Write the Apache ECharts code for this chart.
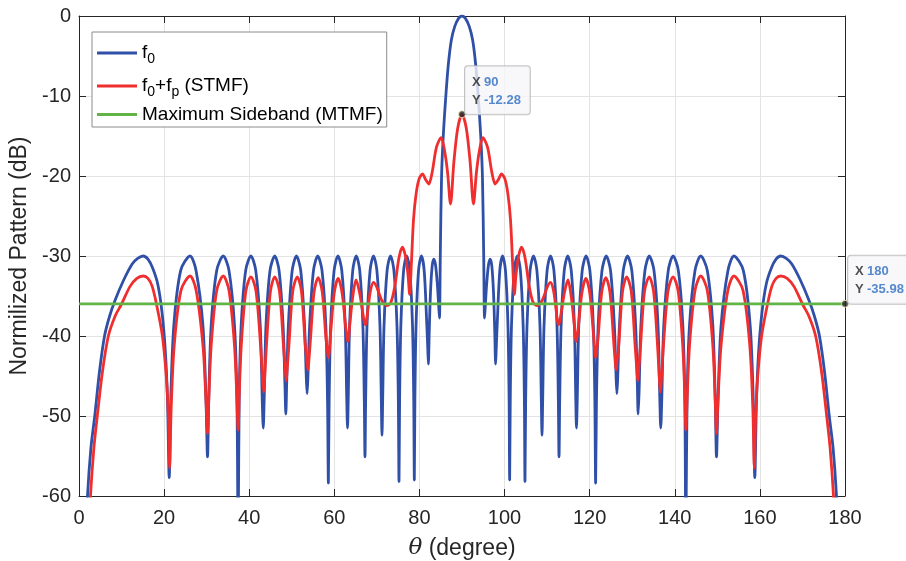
<!DOCTYPE html>
<html>
<head>
<meta charset="utf-8">
<script src="https://cdn.jsdelivr.net/npm/echarts@6/dist/echarts.min.js"></script>
<style>
html,body{margin:0;padding:0;background:#fff;}
#chart{width:906px;height:561px;}
</style>
</head>
<body>
<div id="chart"></div>
<script>
// Axis ranges / ticks
var xMin = 0, xMax = 180, xStep = 20;
var yMin = -60, yMax = 0, yStep = 10;

// f0 pattern [theta (deg), dB]
var f0Data = [
[1.4,-68],[2.0,-60],[2.8,-54],[3.7,-50],[4.8,-44.5],[6.0,-40],[7.2,-37.5],[8.5,-35.5],[10.5,-33],[12.5,-31],[13.8,-30.3],[15.1,-30],[16.2,-30.4],[17.3,-31.5],[18.5,-33.5],[19.5,-37],[20.3,-42],[20.8,-48],[21.2,-57.7],
[21.56,-48],[22.28,-38.7],[23.9,-31.8],[26.1,-30],[27.5,-31.8],[29.12,-38.7],[29.84,-48],[30.2,-55.1],
[30.49,-48],[31.06,-38.7],[32.36,-31.8],[33.9,-30],[35.24,-31.8],[36.54,-38.7],[37.11,-48],[37.4,-66],
[37.64,-48],[38.11,-38.7],[39.17,-31.8],[40.4,-30],[41.53,-31.8],[42.59,-38.7],[43.06,-48],[43.3,-51.5],
[43.51,-48],[43.94,-38.7],[44.89,-31.8],[46.0,-30],[47.01,-31.8],[47.96,-38.7],[48.39,-46],[48.6,-49.75],
[48.8,-46],[49.2,-38.7],[50.1,-31.8],[51.1,-30],[52.1,-31.8],[53.0,-38.7],[53.4,-45],[53.6,-47.2],
[53.8,-45],[54.2,-38.7],[55.1,-31.8],[56.1,-30],[57.1,-31.8],[58.0,-38.7],[58.4,-48],[58.6,-58.4],
[58.78,-48],[59.14,-38.7],[59.95,-31.8],[60.85,-30],[61.75,-31.8],[62.56,-38.7],[62.92,-48],[63.1,-51.5],
[63.26,-48],[63.59,-38.7],[64.33,-31.8],[65.15,-30],[65.97,-31.8],[66.71,-38.7],[67.04,-48],[67.2,-55.1],
[67.36,-48],[67.68,-38.7],[68.4,-31.8],[69.2,-30],[70.0,-31.8],[70.72,-38.7],[71.04,-48],[71.2,-52.4],
[71.36,-48],[71.68,-38.7],[72.4,-31.8],[73.2,-30],[74.0,-31.8],[74.72,-38.7],[75.04,-48],[75.2,-58.2],
[75.34,-48],[75.63,-38.7],[76.28,-31.8],[77.0,-30],[77.72,-31.8],[78.37,-38.7],[78.66,-48],[78.8,-58],
[78.93,-48],[79.2,-38.7],[79.79,-31.8],[80.45,-30],[81.11,-31.8],[81.7,-38.2],[81.95,-41.5],[82.1,-43.5],
[82.3,-39.5],[82.6,-34.5],[83.0,-31.2],[83.4,-30.4],[83.8,-31.2],[84.2,-33.5],[84.5,-36],[84.7,-37.75],
[84.9,-30],[85.2,-20],[85.6,-15],[86.2,-10],[86.8,-6],[87.5,-3],[88.3,-1.3],[89.2,-0.3],[90,0],
[90.8,-0.3],[91.7,-1.3],[92.5,-3],[93.2,-6],[93.8,-10],[94.4,-15],[94.8,-20],[95.1,-30],[95.3,-37.75],
[95.5,-36],[95.8,-33.5],[96.2,-31.2],[96.6,-30.4],[97.0,-31.2],[97.4,-34.5],[97.7,-39.5],[97.9,-43.5],
[98.05,-41.5],[98.3,-38.2],[98.89,-31.8],[99.55,-30],[100.21,-31.8],[100.8,-38.7],[101.07,-48],[101.2,-58],
[101.34,-48],[101.63,-38.7],[102.28,-31.8],[103.0,-30],[103.72,-31.8],[104.37,-38.7],[104.66,-48],[104.8,-58.2],
[104.96,-48],[105.28,-38.7],[106.0,-31.8],[106.8,-30],[107.6,-31.8],[108.32,-38.7],[108.64,-48],[108.8,-52.4],
[108.96,-48],[109.28,-38.7],[110.0,-31.8],[110.8,-30],[111.6,-31.8],[112.32,-38.7],[112.64,-48],[112.8,-55.1],
[112.96,-48],[113.29,-38.7],[114.03,-31.8],[114.85,-30],[115.67,-31.8],[116.41,-38.7],[116.74,-48],[116.9,-51.5],
[117.08,-48],[117.44,-38.7],[118.25,-31.8],[119.15,-30],[120.05,-31.8],[120.86,-38.7],[121.22,-48],[121.4,-58.4],
[121.6,-48],[122.0,-38.7],[122.9,-31.8],[123.9,-30],[124.9,-31.8],[125.8,-38.7],[126.2,-45],[126.4,-47.2],
[126.6,-45],[127.0,-38.7],[127.9,-31.8],[128.9,-30],[129.9,-31.8],[130.8,-38.7],[131.2,-46],[131.4,-49.75],
[131.61,-47],[132.04,-38.7],[132.99,-31.8],[134.0,-30],[135.11,-31.8],[136.06,-38.7],[136.49,-48],[136.7,-51.5],
[136.94,-48],[137.41,-38.7],[138.47,-31.8],[139.6,-30],[140.83,-31.8],[141.89,-38.7],[142.36,-48],[142.6,-66],
[142.89,-48],[143.46,-38.7],[144.76,-31.8],[146.1,-30],[147.64,-31.8],[148.94,-38.7],[149.51,-48],[149.8,-55.1],
[150.16,-48],[150.88,-38.7],[152.5,-31.8],[153.9,-30],[156.1,-31.8],[157.72,-38.7],[158.44,-48],[158.8,-57.7],
[159.2,-48],[159.7,-42],[160.5,-37],[161.5,-33.5],[162.7,-31.5],[163.8,-30.4],[164.9,-30],[166.2,-30.3],[167.5,-31],[169.5,-33],[171.5,-35.5],
[172.8,-37.5],[174.0,-40],[175.2,-44.5],[176.3,-50],[177.2,-54],[178.0,-60],[178.6,-68]
];

// f0+fp (STMF) pattern [theta (deg), dB]
var stmfData = [
[2.2,-66],[2.7,-60],[3.5,-54],[4.3,-50],[5.5,-44.5],[6.9,-40],[8.5,-37.5],[10,-36],[12,-33.8],[13.6,-32.8],[15.1,-32.5],[16.2,-32.8],[17.2,-33.8],[18.2,-36],[19.6,-40],[20.5,-45],[21.0,-50],[21.3,-56.5],
[21.66,-49],[22.37,-41.2],[23.97,-34.3],[26.1,-32.5],[27.53,-34.3],[29.13,-41.2],[29.84,-48],[30.2,-52.2],
[30.49,-48],[31.06,-41.2],[32.36,-34.3],[33.9,-32.5],[35.24,-34.3],[36.54,-41.2],[37.11,-48],[37.4,-51.75],
[37.64,-47.5],[38.12,-41.3],[39.2,-34.4],[40.4,-32.6],[41.6,-34.4],[42.68,-41.3],[43.16,-45.5],[43.4,-47.0],
[43.61,-45.5],[44.04,-41.3],[44.99,-34.4],[46.0,-32.6],[47.11,-34.4],[48.06,-41.3],[48.49,-44.3],[48.7,-45.6],
[48.9,-44.3],[49.31,-41.3],[50.23,-34.4],[51.3,-32.6],[52.27,-34.4],[53.19,-41.3],[53.6,-43.2],[53.8,-44.25],
[54.0,-43.2],[54.38,-40.5],[55.24,-34.5],[56.2,-32.7],[57.16,-34.5],[58.02,-40.2],[58.4,-42],[58.6,-42.7],
[58.8,-42],[59.15,-39.5],[59.98,-34.6],[60.9,-32.8],[61.82,-34.6],[62.65,-38.8],[63.0,-40.2],[63.2,-40.7],
[63.4,-40.0],[63.69,-38.2],[64.43,-34.7],[65.1,-33.0],[65.9,-34.5],[66.6,-36.8],[67.0,-38.1],[67.3,-38.6],
[67.6,-38.0],[68.0,-36.2],[68.5,-34.3],[69.2,-33.3],[69.9,-33.8],[70.6,-34.8],[71.3,-35.7],[72.3,-36.2],[73.3,-35.8],
[74.2,-33.8],[75.2,-30.2],[76.0,-28.9],[76.7,-30.0],[77.3,-32.3],[77.7,-34.8],[78.1,-31],[78.6,-25.5],[79.2,-22.3],
[79.9,-20.4],[80.7,-19.75],[81.5,-20.5],[82.2,-21.0],[83.0,-19.5],[84.0,-16.4],[85.1,-15.2],[85.9,-16.8],[86.6,-19.5],
[87.3,-23.5],[88.1,-18.2],[89.0,-14.0],[90,-12.28],[91.0,-14.0],[91.9,-18.2],[92.7,-23.5],[93.4,-19.5],[94.1,-16.8],
[94.9,-15.2],[96.0,-16.4],[97.0,-19.5],[97.8,-21.0],[98.5,-20.5],[99.3,-19.75],[100.1,-20.4],[100.8,-22.3],[101.4,-25.5],
[101.9,-31],[102.3,-34.8],[102.7,-32.3],[103.3,-30.0],[104.0,-28.9],[104.8,-30.2],[105.8,-33.8],[106.7,-35.8],[107.7,-36.2],
[108.7,-35.7],[109.4,-34.8],[110.1,-33.8],[110.8,-33.3],[111.5,-34.3],[112.0,-36.2],[112.4,-38.0],[112.7,-38.6],
[113.0,-38.1],[113.4,-36.8],[114.1,-34.5],[114.9,-33.0],[115.57,-34.7],[116.31,-38.2],[116.6,-40.0],[116.8,-40.7],
[117.0,-40.2],[117.35,-38.8],[118.18,-34.6],[119.1,-32.8],[120.02,-34.6],[120.85,-39.5],[121.2,-42],[121.4,-42.7],
[121.6,-42],[121.98,-40.2],[122.84,-34.5],[123.8,-32.7],[124.76,-34.5],[125.62,-40.5],[126.0,-43.2],[126.2,-44.25],
[126.4,-43.2],[126.81,-41.3],[127.73,-34.4],[128.7,-32.6],[129.77,-34.4],[130.69,-41.3],[131.1,-44.3],[131.3,-45.6],
[131.51,-44.3],[131.94,-41.3],[132.89,-34.4],[134.0,-32.6],[135.01,-34.4],[135.96,-41.3],[136.39,-45.5],[136.6,-47.0],
[136.84,-45.5],[137.32,-41.3],[138.4,-34.4],[139.6,-32.6],[140.8,-34.4],[141.88,-41.3],[142.36,-47.5],[142.6,-51.75],
[142.89,-48],[143.46,-41.2],[144.76,-34.3],[146.1,-32.5],[147.64,-34.3],[148.94,-41.2],[149.51,-48],[149.8,-52.2],
[150.16,-48],[150.87,-41.2],[152.47,-34.3],[153.9,-32.5],[156.03,-34.3],[157.63,-41.2],[158.34,-49],[158.7,-56.5],
[159.0,-50],[159.5,-45],[160.4,-40],[161.8,-36],[162.8,-33.8],[163.8,-32.8],[164.9,-32.5],[166.4,-32.8],[168,-33.8],[170,-36],[171.5,-37.5],
[173.1,-40],[174.5,-44.5],[175.7,-50],[176.5,-54],[177.3,-60],[177.8,-66]
];

// Maximum sideband level (MTMF)
var mtmfLevel = -35.98;
var mtmfData = [[0, mtmfLevel], [180, mtmfLevel]];

// Data tips
var tipPoints = [[90, -12.28], [180, -35.98]];

var C_BLUE = '#3050a8', C_RED = '#f02e2e', C_GREEN = '#62b446';
var FONT = 'Liberation Sans, Arial, Helvetica, sans-serif';

var chart = echarts.init(document.getElementById('chart'), null, {renderer: 'canvas'});

var legendNames = {
  'f0': '{t|f}{s|0}',
  'STMF': '{t|f}{s|0}{t|+f}{s|p}{t| (STMF)}',
  'MTMF': '{t|Maximum Sideband (MTMF)}'
};

function tickAxis(pos) {
  return {
    type: 'value', position: pos,
    min: pos === 'top' ? xMin : yMin, max: pos === 'top' ? xMax : yMax,
    interval: pos === 'top' ? xStep : yStep,
    axisLine: {show: true, onZero: false, lineStyle: {color: '#262626', width: 1}},
    axisTick: {show: true, inside: true, length: 7, lineStyle: {color: '#262626'}},
    axisLabel: {show: false},
    splitLine: {show: false}
  };
}

var option = {
  animation: false,
  backgroundColor: '#ffffff',
  grid: {left: 79, right: 61, top: 16, bottom: 65, containLabel: false, outerBoundsMode: 'none'},
  legend: {
    left: 92, top: 32, orient: 'vertical',
    data: ['f0', 'STMF', 'MTMF'],
    icon: 'rect',
    itemWidth: 40, itemHeight: 3, itemGap: 6,
    padding: [7, 4, 3, 5],
    backgroundColor: '#ffffff',
    borderColor: '#8c8c8c', borderWidth: 1,
    formatter: function (n) { return legendNames[n]; },
    textStyle: {
      fontFamily: FONT,
      rich: {
        t: {fontSize: 19, color: '#000', fontFamily: FONT, lineHeight: 26},
        s: {fontSize: 14, color: '#000', fontFamily: FONT, verticalAlign: 'bottom', lineHeight: 26, padding: [13, 0, 0, 0]}
      }
    }
  },
  xAxis: [{
    type: 'value', min: xMin, max: xMax, interval: xStep,
    name: '{i|θ} (degree)', nameLocation: 'middle', nameGap: 41,
    nameTextStyle: {fontSize: 23, color: '#262626', fontFamily: FONT,
      rich: {i: {fontStyle: 'italic', fontSize: 23, color: '#262626', fontFamily: 'DejaVu Serif, serif'}}},
    axisLine: {show: true, onZero: false, lineStyle: {color: '#262626', width: 1}},
    axisTick: {show: true, inside: true, length: 7, lineStyle: {color: '#262626'}},
    axisLabel: {fontSize: 20, color: '#262626', fontFamily: FONT, margin: 12},
    splitLine: {show: true, lineStyle: {color: '#e3e3e3', width: 1}}
  }, tickAxis('top')],
  yAxis: [{
    type: 'value', min: yMin, max: yMax, interval: yStep,
    name: 'Normilized Pattern (dB)', nameLocation: 'middle', nameGap: 32,
    nameTextStyle: {fontSize: 23, color: '#262626', fontFamily: FONT},
    axisLine: {show: true, onZero: false, lineStyle: {color: '#262626', width: 1}},
    axisTick: {show: true, inside: true, length: 7, lineStyle: {color: '#262626'}},
    axisLabel: {fontSize: 20, color: '#262626', fontFamily: FONT, margin: 8},
    splitLine: {show: true, lineStyle: {color: '#e3e3e3', width: 1}}
  }, tickAxis('right')],
  series: [
    {name: 'f0', type: 'line', data: f0Data, symbol: 'none', smooth: 0.3,
     clip: true, lineStyle: {color: C_BLUE, width: 2.8}, itemStyle: {color: C_BLUE}, z: 2},
    {name: 'STMF', type: 'line', data: stmfData, symbol: 'none', smooth: 0.3,
     clip: true, lineStyle: {color: C_RED, width: 2.8}, itemStyle: {color: C_RED}, z: 3},
    {name: 'MTMF', type: 'line', data: mtmfData, symbol: 'none',
     clip: false, lineStyle: {color: C_GREEN, width: 2.8}, itemStyle: {color: C_GREEN}, z: 4},
    {name: 'tips', type: 'scatter', data: tipPoints, symbolSize: 7, clip: false, z: 10,
     itemStyle: {color: '#262626', borderColor: '#f4f4c8', borderWidth: 1},
     label: {
       show: true, position: [7, 4], align: 'left', verticalAlign: 'bottom',
       formatter: function (p) { return '{k|X} {v|' + p.value[0] + '}\n{k|Y} {v|' + p.value[1] + '}'; },
       backgroundColor: '#f6f6fa', borderColor: '#b4b4b4', borderWidth: 1, borderRadius: 3,
       padding: [7, 9, 5, 7],
       rich: {
         k: {fontSize: 13, color: '#262626', fontFamily: FONT, fontWeight: 'bold', lineHeight: 18},
         v: {fontSize: 13, color: '#2c6cc0', fontFamily: FONT, fontWeight: 'bold', lineHeight: 18}
       }
     }}
  ]
};
chart.setOption(option);
</script>
</body>
</html>
